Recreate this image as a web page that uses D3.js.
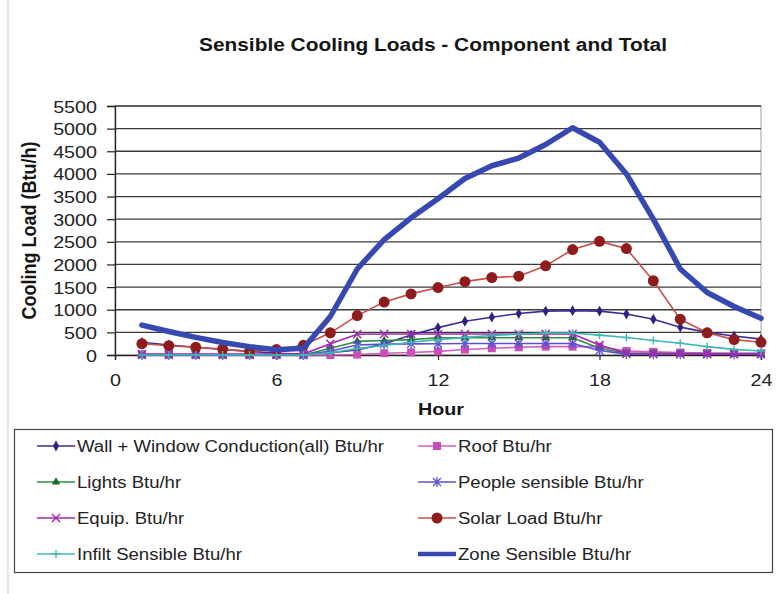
<!DOCTYPE html>
<html>
<head>
<meta charset="utf-8">
<script src="https://cdn.jsdelivr.net/npm/d3@7"></script>
<style>
  html, body { margin: 0; padding: 0; background: #fff; }
  svg { display: block; font-family: "Liberation Sans", Arial, sans-serif; }
</style>
</head>
<body>
<svg id="chart" width="777" height="594"></svg>
<script>
// Hourly sensible cooling loads (Btu/h), hours 1..24
const hours = d3.range(1, 25);
const wallWindow = [280, 220, 170, 120, 80, 40, 20, 50, 110, 250, 440, 605, 745, 835, 915, 970, 980, 970, 905, 790, 615, 500, 420, 350];
const roof       = [10, 5, 0, 0, 0, 0, 0, 0, 10, 40, 55, 80, 120, 150, 170, 185, 185, 185, 90, 70, 55, 45, 40, 35];
const lights     = [0, 0, 0, 0, 0, 0, 0, 150, 300, 320, 340, 380, 380, 380, 380, 380, 380, 150, 40, 35, 30, 30, 30, 30];
const people     = [0, 0, 0, 0, 0, 0, 0, 90, 220, 240, 245, 250, 255, 255, 255, 255, 255, 100, 20, 15, 15, 15, 15, 15];
const equip      = [20, 20, 20, 20, 20, 20, 20, 250, 460, 465, 465, 465, 465, 465, 465, 465, 465, 220, 40, 30, 25, 25, 25, 25];
const solarLoad  = [250, 205, 170, 130, 80, 120, 215, 490, 870, 1170, 1350, 1490, 1620, 1710, 1740, 1970, 2330, 2510, 2350, 1640, 790, 490, 340, 280];
const infilt     = [0, 0, 0, 0, 0, 0, 0, 50, 140, 210, 280, 340, 390, 430, 460, 485, 485, 440, 385, 320, 260, 185, 125, 90];
const zone       = [660, 520, 390, 275, 185, 115, 150, 850, 1900, 2550, 3030, 3450, 3900, 4180, 4350, 4650, 5020, 4700, 4000, 3000, 1900, 1380, 1070, 810];

const yTicks = d3.range(0, 5501, 500);
const xTicks = [0, 6, 12, 18, 24];

const seriesNames = [
  "Wall + Window Conduction(all) Btu/hr",
  "Roof Btu/hr",
  "Lights Btu/hr",
  "People sensible Btu/hr",
  "Equip. Btu/hr",
  "Solar Load Btu/hr",
  "Infilt Sensible Btu/hr",
  "Zone Sensible Btu/hr"
];

const series = [
  { name: seriesNames[0], values: wallWindow, line: "#3b2e95", fill: "#2e2480", marker: "diamond", width: 1.6 },
  { name: seriesNames[1], values: roof,       line: "#d35fbe", fill: "#c94fb6", marker: "square",  width: 1.6 },
  { name: seriesNames[2], values: lights,     line: "#2f8f46", fill: "#1f6b2e", marker: "triangle", width: 1.6 },
  { name: seriesNames[3], values: people,     line: "#5b52d0", fill: "#5b52d0", marker: "star",    width: 1.6 },
  { name: seriesNames[4], values: equip,      line: "#a02ab0", fill: "#a02ab0", marker: "cross",   width: 1.6 },
  { name: seriesNames[5], values: solarLoad,  line: "#c8504a", fill: "#8e1c1c", marker: "circle",  width: 1.6 },
  { name: seriesNames[6], values: infilt,     line: "#3fb7b4", fill: "#3fb7b4", marker: "plus",    width: 1.6 },
  { name: seriesNames[7], values: zone,       line: "#3748b0", fill: "#3748b0", marker: null,      width: 5.5 }
];

// text in this chart is set slightly wide
const SX = 1.16;

const svg = d3.select("#chart");

function wideText(parent, tx, ty, str, size, anchor, weight) {
  return parent.append("text")
    .attr("transform", `translate(${tx},${ty}) scale(${SX},1)`)
    .attr("text-anchor", anchor || "start")
    .attr("font-size", size)
    .attr("font-weight", weight || "normal")
    .attr("fill", "#151515")
    .text(str);
}

// outer chart frame edge
svg.append("line").attr("x1", 8).attr("x2", 8).attr("y1", 0).attr("y2", 594)
  .attr("stroke", "#cfcfcf").attr("stroke-width", 1);

const x = d3.scaleLinear().domain([0, 24]).range([115, 761]);
const y = d3.scaleLinear().domain([0, 5500]).range([355, 106]);

// title
wideText(svg, 433, 51, "Sensible Cooling Loads - Component and Total", 18, "middle", "bold");

// plot area border
svg.append("rect").attr("x", x(0)).attr("y", y(5500))
  .attr("width", x(24) - x(0)).attr("height", y(0) - y(5500))
  .attr("fill", "none").attr("stroke", "#a0a0a0").attr("stroke-width", 1);

// horizontal gridlines
svg.append("g").selectAll("line").data(yTicks.filter(d => d > 0)).join("line")
  .attr("x1", x(0)).attr("x2", x(24))
  .attr("y1", d => y(d)).attr("y2", d => y(d))
  .attr("stroke", "#3a3a3a").attr("stroke-width", 1.3);

// axes
const yAxis = d3.axisLeft(y).tickValues(yTicks).tickSize(8).tickPadding(0).tickFormat(d3.format("d"));
const gy = svg.append("g").attr("transform", `translate(${x(0)},0)`).call(yAxis);
gy.select(".domain").attr("stroke", "#222").attr("stroke-width", 1.3);
gy.selectAll(".tick line").attr("stroke", "#222").attr("stroke-width", 1.2);
gy.selectAll(".tick text")
  .attr("x", null).attr("dy", null)
  .attr("transform", `translate(-18,6) scale(${SX},1)`)
  .attr("font-size", 17).attr("fill", "#222")
  .attr("font-family", "'Liberation Sans', Arial, sans-serif");

const xAxis = d3.axisBottom(x).tickValues(xTicks).tickSize(5).tickPadding(0);
const gx = svg.append("g").attr("transform", `translate(0,${y(0)})`).call(xAxis);
gx.select(".domain").attr("stroke", "#222").attr("stroke-width", 1.3);
gx.selectAll(".tick line").attr("stroke", "#222").attr("stroke-width", 1.2);
gx.selectAll(".tick text")
  .attr("y", null).attr("dy", null)
  .attr("transform", `translate(0,31) scale(${SX},1)`)
  .attr("font-size", 17).attr("fill", "#222")
  .attr("font-family", "'Liberation Sans', Arial, sans-serif");

// axis titles
wideText(svg, 441, 415, "Hour", 17, "middle", "bold");
svg.append("text").attr("transform", `translate(36,${(y(0) + y(5500)) / 2}) scale(${SX},1) rotate(-90)`)
  .attr("text-anchor", "middle").attr("font-size", 18).attr("font-weight", "bold")
  .attr("fill", "#151515").text("Cooling Load (Btu/h)");

// marker drawing
function drawMarker(g, type, color) {
  switch (type) {
    case "diamond":
      g.append("path").attr("d", d3.symbol(d3.symbolDiamond, 34)()).attr("fill", color);
      break;
    case "square":
      g.append("rect").attr("x", -4).attr("y", -4).attr("width", 8).attr("height", 8).attr("fill", color);
      break;
    case "triangle":
      g.append("path").attr("d", d3.symbol(d3.symbolTriangle, 30)()).attr("fill", color);
      break;
    case "circle":
      g.append("circle").attr("r", 5.5).attr("fill", color);
      break;
    case "cross":
      g.append("path").attr("d", "M-4,-4L4,4M-4,4L4,-4").attr("stroke", color).attr("stroke-width", 1.5);
      break;
    case "star":
      g.append("path").attr("d", "M-4,-4L4,4M-4,4L4,-4M0,-5L0,5").attr("stroke", color).attr("stroke-width", 1.3);
      break;
    case "plus":
      g.append("path").attr("d", "M-4,0L4,0M0,-4L0,4").attr("stroke", color).attr("stroke-width", 1.4);
      break;
  }
}

const line = d3.line().x((d, i) => x(hours[i])).y(d => y(d));

const plot = svg.append("g");
series.forEach(s => {
  const g = plot.append("g");
  g.append("path").datum(s.values).attr("d", line)
    .attr("fill", "none").attr("stroke", s.line).attr("stroke-width", s.width)
    .attr("stroke-linejoin", "round").attr("stroke-linecap", "round");
  if (s.marker) {
    s.values.forEach((v, i) => {
      const mg = g.append("g").attr("transform", `translate(${x(hours[i])},${y(v)})`);
      drawMarker(mg, s.marker, s.fill);
    });
  }
});

// legend
const legend = svg.append("g");
legend.append("rect").attr("x", 14.5).attr("y", 429.5).attr("width", 758).attr("height", 143)
  .attr("fill", "#fff").attr("stroke", "#444").attr("stroke-width", 1.2);

const legendRows = [446, 482, 518, 554];
series.forEach((s, i) => {
  const col = i % 2, row = Math.floor(i / 2);
  const x0 = col === 0 ? 37 : 418;
  const yy = legendRows[row];
  const g = legend.append("g");
  g.append("line").attr("x1", x0).attr("x2", x0 + 38).attr("y1", yy).attr("y2", yy)
    .attr("stroke", s.line).attr("stroke-width", s.marker ? 1.6 : 4.5);
  if (s.marker) {
    const mg = g.append("g").attr("transform", `translate(${x0 + 19},${yy})`);
    drawMarker(mg, s.marker, s.fill);
  }
  wideText(g, x0 + 40, yy + 6, s.name, 16, "start", "normal").attr("fill", "#222");
});
</script>
</body>
</html>
